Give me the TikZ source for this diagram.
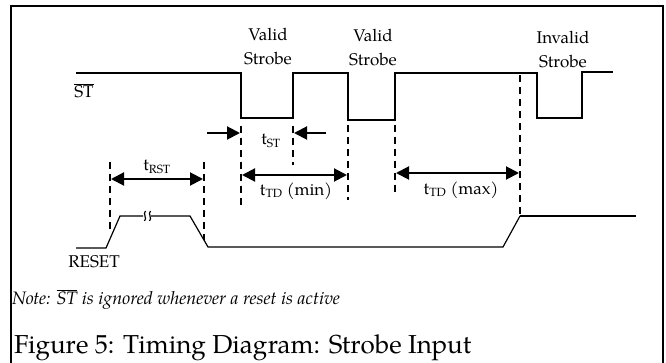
\documentclass[tikz,border=0pt]{standalone}
\usepackage{fontspec}
\setmainfont{TeX Gyre Pagella}
\usetikzlibrary{arrows.meta}
\begin{document}
\begin{tikzpicture}[x=1pt,y=-1pt,
  sig/.style={line width=2pt},
  thinsig/.style={line width=1.2pt},
  guide/.style={line width=2pt, dash pattern=on 7pt off 5pt},
  dimarrow/.style={line width=2pt, -{Triangle[length=13pt,width=13pt]}},
  dimboth/.style={line width=2pt, {Triangle[length=13pt,width=13pt]}-{Triangle[length=13pt,width=13pt]}},
  lbl/.style={font=\fontsize{17}{24}\selectfont, inner sep=0pt, align=center},
]
\useasboundingbox (0,0) rectangle (666,363);
\fill[white] (0,0) rectangle (666,363);
% frame
\draw[line width=2pt] (11,400) -- (11,6) -- (663,6) -- (663,400);

% ST signal
\draw[sig] (76,73) -- (241,73) -- (241,118) -- (293,118) -- (293,73) -- (348,73) -- (348,120) -- (395,120) -- (395,73) -- (537,73) -- (537,118) -- (582,118) -- (582,72) -- (613,72);
\node[lbl] (stlbl) at (84,91) {$\overline{\mbox{ST}}$};

% strobe labels
\node[lbl] (valid1) at (268,47) {Valid\\Strobe};
\node[lbl] (valid2) at (373,47.5) {Valid\\Strobe};
\node[lbl] (invalid) at (563,49.5) {Invalid\\Strobe};

% guide lines
\coordinate (g1t) at (241,126); \coordinate (g1b) at (241,206);
\coordinate (g2t) at (293,126); \coordinate (g2b) at (293,165);
\coordinate (g3t) at (348,125); \coordinate (g3b) at (348,200);
\coordinate (g4t) at (395,125); \coordinate (g4b) at (395,196);
\coordinate (g5t) at (520,75);  \coordinate (g5b) at (520,214);
\coordinate (g6t) at (110,162); \coordinate (g6b) at (110,232);
\coordinate (g7t) at (204,162); \coordinate (g7b) at (204,240);
\draw[guide] (g1t) -- (g1b);
\draw[guide] (g2t) -- (g2b);
\draw[guide] (g3t) -- (g3b);
\draw[guide] (g4t) -- (g4b);
\draw[guide] (g5t) -- (g5b);
\draw[guide] (g6t) -- (g6b);
\draw[guide] (g7t) -- (g7b);

% t_ST
\coordinate (stA) at (207,133); \coordinate (stB) at (240,133);
\coordinate (stC) at (326,133); \coordinate (stD) at (294,133);
\draw[dimarrow] (stA) -- (stB);
\draw[dimarrow] (stC) -- (stD);
\node[lbl] (tst) at (271,141) {t\textsubscript{ST}};

% t_TD (min)
\coordinate (tdA) at (242,175); \coordinate (tdB) at (347,175);
\draw[dimboth] (tdA) -- (tdB);
\node[lbl] (tdmin) at (296,191) {t\textsubscript{TD} (min)};

% t_TD (max)
\coordinate (tmA) at (396,173); \coordinate (tmB) at (519,173);
\draw[dimboth] (tmA) -- (tmB);
\node[lbl] (tdmax) at (461,190) {t\textsubscript{TD} (max)};

% t_RST
\coordinate (trA) at (111,179); \coordinate (trB) at (203,179);
\draw[dimboth] (trA) -- (trB);
\node[lbl] (trst) at (157,167) {t\textsubscript{RST}};

% RESET signal
\draw[thinsig] (76,248) -- (106,248) -- (120,216) -- (143,216);
\draw[thinsig] (145.5,211) .. controls (142.5,213.5) and (147.5,218.5) .. (144.5,221);
\draw[thinsig] (150.5,211) .. controls (147.5,213.5) and (152.5,218.5) .. (149.5,221);
\draw[thinsig] (151,216) -- (190,216) -- (208,247) -- (503,247) -- (520,216);
\draw[sig] (520,216) -- (636,216);
\node[lbl] (rstlbl) at (94,262) {RESET};

% note and caption
\node[anchor=base west, font=\fontsize{18}{20}\selectfont\itshape, inner sep=0pt] (note) at (12,304) {Note: $\overline{\mbox{\itshape ST}}$ is ignored whenever a reset is active};
\node[anchor=base west, font=\fontsize{26}{30}\selectfont, inner sep=0pt] (caption) at (14,353) {Figure 5: Timing Diagram: Strobe Input};
\end{tikzpicture}
\end{document}
